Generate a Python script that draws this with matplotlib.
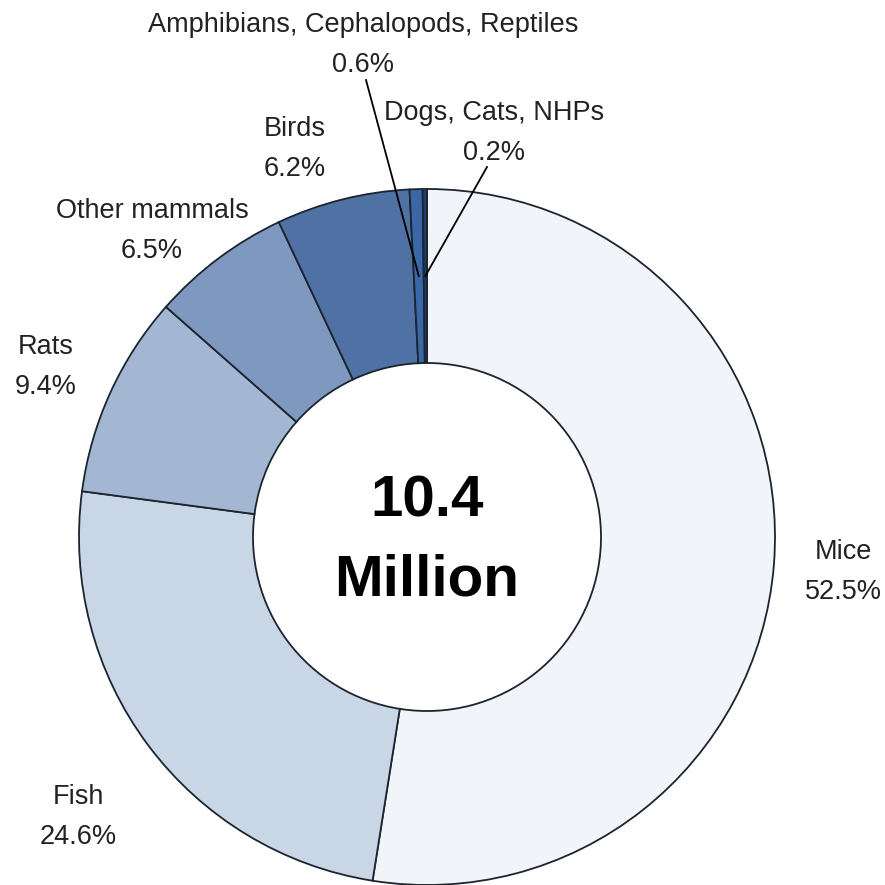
import numpy as np
import matplotlib
matplotlib.use('Agg')
import matplotlib.pyplot as plt

plt.rcParams['font.family'] = ['Liberation Sans', 'DejaVu Sans']

# Animal use share, clockwise from 12 o'clock
species = ['Mice', 'Fish', 'Rats', 'Other mammals', 'Birds',
           'Amphibians, Cephalopods, Reptiles', 'Dogs, Cats, NHPs']
share = [52.5, 24.6, 9.4, 6.5, 6.2, 0.6, 0.2]
colors = ['#f1f4f9', '#c9d6e6', '#a3b7d2', '#7f98bf', '#4f71a3', '#3a67a8', '#1f3d6b']
total_label = '10.4\nMillion'

# label centres (pixels, y measured from the top)
label_pos = [(843, 572), (78, 817), (46, 367), (152, 231), (295, 149),
             (363, 45), (494, 133)]

W = 885
cx, cy, R = 427, W - 537, 348
ring = 0.5

fig = plt.figure(figsize=(8.85, 8.85), dpi=100)
ax = fig.add_axes([0, 0, 1, 1])

wedges, _ = ax.pie(share, colors=colors, startangle=90, counterclock=False,
                   center=(cx, cy), radius=R, frame=True,
                   wedgeprops=dict(width=R * ring, edgecolor='#1c2430', linewidth=1.3))
ax.set_xlim(0, W)
ax.set_ylim(0, W)
ax.set_aspect('equal')
ax.axis('off')

ax.text(cx, cy - 4, total_label, ha='center', va='center', fontsize=42,
        fontweight='bold', linespacing=1.6, color='black')

for name, val, (lx, ly) in zip(species, share, label_pos):
    ax.text(lx, W - ly, f'{name}\n{val}%', ha='center', va='center',
            fontsize=19.5, linespacing=1.72, color='#222222')

# leader lines for the two thin slices
starts = {5: (366, 80), 6: (487, 167)}
for i, (sx, sy) in starts.items():
    w = wedges[i]
    mid = np.deg2rad((w.theta1 + w.theta2) / 2)
    r_mid = R * (1 - ring / 2)
    ex, ey = cx + r_mid * np.cos(mid), cy + r_mid * np.sin(mid)
    ax.plot([sx, ex], [W - sy, ey], color='black', linewidth=1.3)

fig.savefig('out.png', dpi=100, facecolor='white')
